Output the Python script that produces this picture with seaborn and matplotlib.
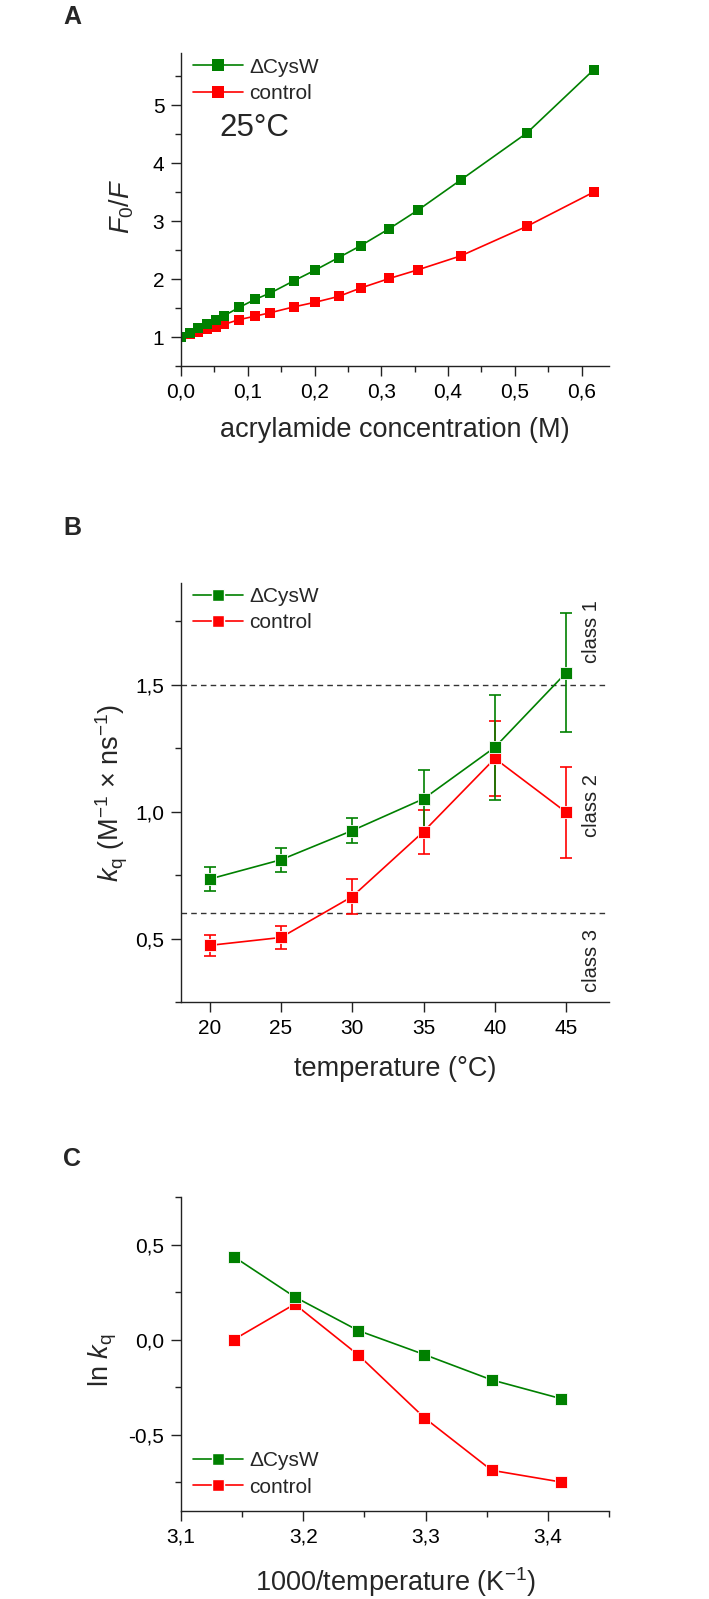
import numpy as np
import pandas as pd
import seaborn as sns
import matplotlib.pyplot as plt
from matplotlib.lines import Line2D
from matplotlib.ticker import MultipleLocator, FuncFormatter

## Data
# panel A: Stern-Volmer plot at 25 C
conc = [0.0, 0.013, 0.026, 0.039, 0.052, 0.065, 0.087, 0.111, 0.134, 0.169,
        0.201, 0.236, 0.269, 0.312, 0.355, 0.419, 0.518, 0.618]
f0f_cysw = [1.0, 1.07, 1.15, 1.23, 1.30, 1.37, 1.51, 1.65, 1.76, 1.97,
            2.155, 2.37, 2.575, 2.87, 3.19, 3.71, 4.52, 5.61]
f0f_control = [1.0, 1.05, 1.09, 1.13, 1.17, 1.22, 1.30, 1.36, 1.42, 1.52,
               1.60, 1.70, 1.845, 2.01, 2.16, 2.40, 2.91, 3.50]

# panel B: kq vs temperature
temp = [20, 25, 30, 35, 40, 45]
kq_cysw = [0.734, 0.81, 0.925, 1.05, 1.253, 1.547]
kq_cysw_err = [0.046, 0.047, 0.05, 0.113, 0.207, 0.233]
kq_control = [0.473, 0.504, 0.665, 0.921, 1.209, 0.997]
kq_control_err = [0.04, 0.045, 0.068, 0.087, 0.147, 0.179]

# panel C: ln kq vs 1000/T
inv_temp = [3.143, 3.193, 3.245, 3.299, 3.354, 3.411]
lnkq_cysw = [0.437, 0.225, 0.048, -0.078, -0.211, -0.31]
lnkq_control = [0.0, 0.187, -0.08, -0.41, -0.686, -0.748]

names = ["\u0394CysW", "control"]
colors = {"\u0394CysW": "#008000", "control": "#ff0000"}

sns.set_style("ticks")
plt.rcParams["font.family"] = ["Liberation Sans", "DejaVu Sans"]
plt.rcParams["mathtext.fontset"] = "custom"
plt.rcParams["mathtext.rm"] = "Liberation Sans"
plt.rcParams["mathtext.it"] = "Liberation Sans:italic"
plt.rcParams["axes.linewidth"] = 1.0
plt.rcParams["axes.edgecolor"] = "#222222"

comma1 = FuncFormatter(lambda v, p: ("%.1f" % v).replace(".", ","))

fig = plt.figure(figsize=(7.09, 15.99), dpi=100)
W, H = 709, 1599
LABEL = 19.5


def make_ax(top, bottom, left=181, right=609):
    return fig.add_axes([left / W, 1 - bottom / H, (right - left) / W, (bottom - top) / H])


def style(ax):
    sns.despine(ax=ax)
    ax.tick_params(which="major", direction="out", length=7.5, width=1.0, labelsize=15,
                   colors="#222222", labelcolor="black", pad=4.5)
    ax.tick_params(which="minor", direction="out", length=4.5, width=1.0, colors="#222222")


def legend(ax, anchor, mec):
    handles = [Line2D([], [], color=colors[n], marker="s", markersize=8,
                      markeredgecolor=mec, markeredgewidth=1.0 if mec == "white" else 0,
                      markerfacecolor=colors[n], lw=1.2) for n in names]
    ax.legend(handles, names, loc="upper left", bbox_to_anchor=anchor, frameon=False,
              fontsize=15, handlelength=2.4, handletextpad=0.3, borderpad=0,
              borderaxespad=0, labelspacing=0.35)


## Panel A
axA = make_ax(53, 366)
dfA = pd.DataFrame({
    "conc": conc * 2,
    "val": f0f_control + f0f_cysw,
    "sample": ["control"] * len(conc) + ["\u0394CysW"] * len(conc),
})
sns.lineplot(data=dfA, x="conc", y="val", hue="sample", hue_order=["control", "\u0394CysW"],
             palette=colors, marker="s", markersize=7.5, markeredgewidth=0, lw=1.2,
             sort=False, legend=False, ax=axA)
axA.set_xlim(0, 0.641)
axA.set_ylim(0.5, 5.9)
axA.xaxis.set_major_locator(MultipleLocator(0.1))
axA.xaxis.set_minor_locator(MultipleLocator(0.05))
axA.yaxis.set_major_locator(MultipleLocator(1))
axA.yaxis.set_minor_locator(MultipleLocator(0.5))
axA.xaxis.set_major_formatter(comma1)
style(axA)
axA.set_xlabel("acrylamide concentration (M)", fontsize=LABEL)
axA.xaxis.set_label_coords(0.5, -0.205)
axA.xaxis.label.set_va("center")
axA.set_ylabel("$\\mathit{F}_0/\\mathit{F}$", fontsize=LABEL)
axA.yaxis.set_label_coords(-0.138, 0.51)
axA.yaxis.label.set_va("center")
legend(axA, (0.028, 0.985), "none")
axA.text(0.09, 0.76, "25\u00b0C", transform=axA.transAxes, fontsize=22.5,
         ha="left", va="center")

## Panel B
axB = make_ax(583, 1002)
axB.axhline(1.5, color="#333333", lw=1.0, ls=(0, (4, 3)), zorder=1)
axB.axhline(0.6, color="#333333", lw=1.0, ls=(0, (4, 3)), zorder=1)
dfB = pd.DataFrame({
    "temp": temp * 2,
    "kq": kq_control + kq_cysw,
    "err": kq_control_err + kq_cysw_err,
    "sample": ["control"] * len(temp) + ["\u0394CysW"] * len(temp),
})
for name in ["control", "\u0394CysW"]:
    d = dfB[dfB["sample"] == name]
    axB.errorbar(d["temp"], d["kq"], yerr=d["err"], fmt="none", ecolor=colors[name],
                 elinewidth=1.2, capsize=4.5, capthick=1.2, zorder=2)
sns.lineplot(data=dfB, x="temp", y="kq", hue="sample", hue_order=["control", "\u0394CysW"],
             palette=colors, marker="s", markersize=8, markeredgecolor="white",
             markeredgewidth=0.6, lw=1.2, sort=False, legend=False, ax=axB, zorder=3)
axB.set_xlim(18, 48)
axB.set_ylim(0.25, 1.9)
axB.xaxis.set_major_locator(MultipleLocator(5))
axB.yaxis.set_major_locator(MultipleLocator(0.5))
axB.yaxis.set_minor_locator(MultipleLocator(0.25))
axB.yaxis.set_major_formatter(comma1)
style(axB)
axB.set_xlabel("temperature (\u00b0C)", fontsize=LABEL)
axB.xaxis.set_label_coords(0.5, -0.16)
axB.xaxis.label.set_va("center")
axB.set_ylabel("$\\mathit{k}_\\mathrm{q}$ (M$^{-1}$ \u00d7 ns$^{-1}$)", fontsize=LABEL)
axB.yaxis.set_label_coords(-0.162, 0.5)
axB.yaxis.label.set_va("center")
for label, yfrac in [("class 1", 0.883), ("class 2", 0.47), ("class 3", 0.10)]:
    axB.text(0.96, yfrac, label, transform=axB.transAxes, rotation=90, fontsize=14.5,
             ha="center", va="center", color="#222222")
legend(axB, (0.028, 0.99), "white")

## Panel C
axC = make_ax(1197, 1511)
dfC = pd.DataFrame({
    "inv": inv_temp * 2,
    "lnkq": lnkq_control + lnkq_cysw,
    "sample": ["control"] * len(inv_temp) + ["\u0394CysW"] * len(inv_temp),
})
sns.lineplot(data=dfC, x="inv", y="lnkq", hue="sample", hue_order=["control", "\u0394CysW"],
             palette=colors, marker="s", markersize=8, markeredgecolor="white",
             markeredgewidth=0.6, lw=1.2, sort=False, legend=False, ax=axC)
axC.set_xlim(3.1, 3.45)
axC.set_ylim(-0.9, 0.75)
axC.xaxis.set_major_locator(MultipleLocator(0.1))
axC.xaxis.set_minor_locator(MultipleLocator(0.05))
axC.yaxis.set_major_locator(MultipleLocator(0.5))
axC.yaxis.set_minor_locator(MultipleLocator(0.25))
axC.xaxis.set_major_formatter(comma1)
axC.yaxis.set_major_formatter(comma1)
style(axC)
axC.set_xlabel("1000/temperature (K$^{-1}$)", fontsize=LABEL)
axC.xaxis.set_label_coords(0.5, -0.225)
axC.xaxis.label.set_va("center")
axC.set_ylabel("ln $\\mathit{k}_\\mathrm{q}$", fontsize=LABEL)
axC.yaxis.set_label_coords(-0.182, 0.48)
axC.yaxis.label.set_va("center")
legend(axC, (0.028, 0.19), "white")

## Panel letters
for letter, y in [("A", 17), ("B", 528), ("C", 1159)]:
    fig.text(72 / W, 1 - y / H, letter, fontsize=18, fontweight="bold",
             ha="center", va="center")

fig.savefig("out.png", dpi=100)
